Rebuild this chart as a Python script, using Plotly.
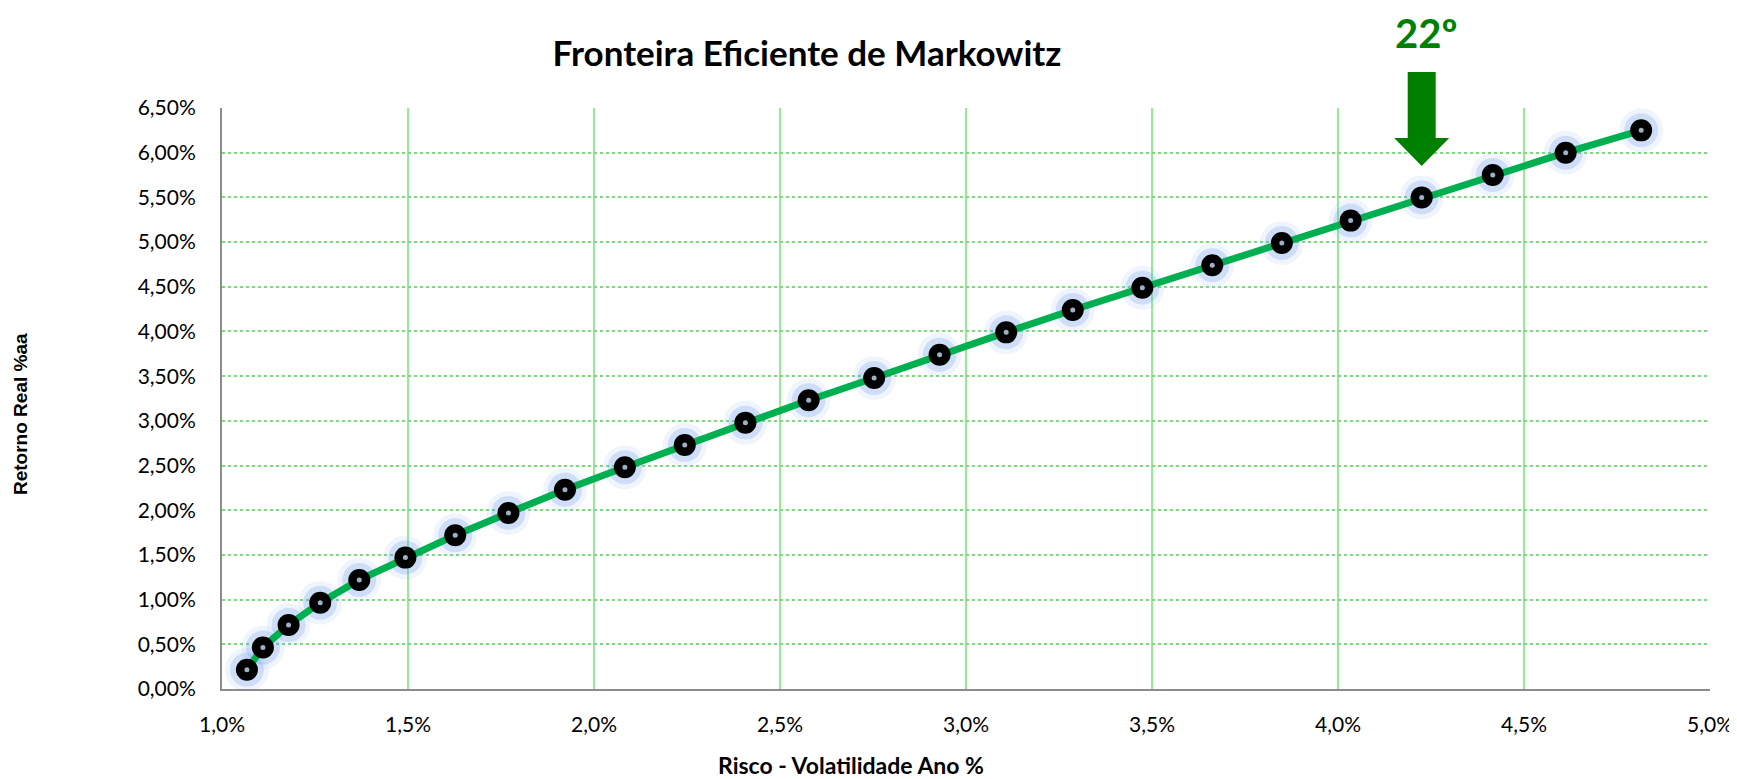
import plotly.graph_objects as go

# Risk (annual volatility, %) and real return (% a.a.) of the efficient frontier points
risco_pct = [1.067, 1.110, 1.179, 1.264, 1.369, 1.493, 1.627, 1.770, 1.922, 2.083,
             2.244, 2.407, 2.577, 2.753, 2.929, 3.108, 3.287, 3.474, 3.662, 3.849,
             4.034, 4.225, 4.416, 4.612, 4.815]
retorno_pct = [0.216, 0.465, 0.716, 0.965, 1.22, 1.47, 1.72, 1.97, 2.23, 2.48,
               2.73, 2.98, 3.23, 3.48, 3.74, 3.99, 4.24, 4.49, 4.74, 4.99,
               5.24, 5.50, 5.75, 6.00, 6.25]
highlight_index = 21          # the 22nd portfolio
highlight_label = "22º"
x_title = "Risco - Volatilidade Ano %"
y_title = "Retorno Real %aa"
chart_title = "Fronteira Eficiente de Markowitz"

x_range = [0.01, 0.05]
y_range = [0.0, 0.065]

x = [v / 100 for v in risco_pct]
y = [v / 100 for v in retorno_pct]

# page body has an 8px margin, so the figure is sized to fill the window exactly
W, H = 1729, 771
ML, MR, MT, MB = 214, 27, 100, 90
plot_w, plot_h = W - ML - MR, H - MT - MB

fig = go.Figure()

# soft glow around markers
fig.add_trace(go.Scatter(x=x, y=y, mode="markers", hoverinfo="skip", showlegend=False,
                         marker=dict(size=44, color="rgba(130,170,240,0.12)", line=dict(width=0))))
fig.add_trace(go.Scatter(x=x, y=y, mode="markers", hoverinfo="skip", showlegend=False,
                         marker=dict(size=34, color="rgba(100,150,235,0.24)", line=dict(width=0))))
# frontier line
fig.add_trace(go.Scatter(x=x, y=y, mode="lines", showlegend=False,
                         line=dict(color="#00B050", width=7)))
# black markers
fig.add_trace(go.Scatter(x=x, y=y, mode="markers", showlegend=False,
                         marker=dict(size=22, color="#000000", line=dict(width=0))))
# small centre dot
fig.add_trace(go.Scatter(x=x, y=y, mode="markers", hoverinfo="skip", showlegend=False,
                         marker=dict(size=5, color="#9fb0c4", line=dict(width=0))))

# arrow pointing at the highlighted portfolio (paper coordinates derived from data)
px = (x[highlight_index] - x_range[0]) / (x_range[1] - x_range[0])
shaft = 14 / plot_w
head = 27.5 / plot_w
y_top = 1 + 36 / plot_h
y_head = 1 - 30 / plot_h
y_tip = 1 - 58 / plot_h
path = (f"M {px-shaft},{y_top} L {px+shaft},{y_top} L {px+shaft},{y_head} "
        f"L {px+head},{y_head} L {px},{y_tip} L {px-head},{y_head} "
        f"L {px-shaft},{y_head} Z")
fig.add_shape(type="path", path=path, xref="paper", yref="paper",
              fillcolor="#008000", line=dict(width=0), layer="above")
fig.add_annotation(text=highlight_label, xref="paper", yref="paper", x=px + 4 / plot_w,
                   y=1 + 75 / plot_h, xanchor="center", yanchor="middle", showarrow=False,
                   height=48,
                   font=dict(family="Lato", size=40, color="#008000", weight="bold"))

# axis titles (placed as in the reference, not centred on the plot area)
fig.add_annotation(text=f"<b>{x_title}</b>", xref="paper", yref="paper",
                   x=(843 - ML) / plot_w, y=-(757 - (H - MB)) / plot_h,
                   xanchor="center", yanchor="middle", showarrow=False,
                   font=dict(family="Lato", size=23, color="#000000"))
fig.add_annotation(text=f"<b>{y_title}</b>", xref="paper", yref="paper",
                   x=(12 - ML) / plot_w, y=((H - MB) - 406) / plot_h, textangle=-90,
                   xanchor="center", yanchor="middle", showarrow=False,
                   font=dict(family="Liberation Sans", size=19, color="#000000"))

fig.update_layout(
    width=W, height=H,
    margin=dict(l=ML, r=MR, t=MT, b=MB, autoexpand=False),
    paper_bgcolor="white", plot_bgcolor="white",
    separators=",.",
    title=dict(text=f"<b>{chart_title}</b>", x=799 / W, xanchor="center",
               y=1 - 46 / H, yanchor="middle", yref="container",
               font=dict(family="Lato", size=35, color="#000000")),
    font=dict(family="Lato", size=21, color="#000000"),
    xaxis=dict(range=x_range, dtick=0.005, tick0=0.01, tickformat=".1%",
               showgrid=True, gridcolor="#90EE90", gridwidth=1.5,
               showline=True, linecolor="#8c8c8c", linewidth=2,
               zeroline=False, ticks="", ticklabelstandoff=16, automargin=False),
    yaxis=dict(range=y_range, dtick=0.005, tickformat=".2%",
               showgrid=True, gridcolor="#7ED87E", gridwidth=2, griddash="dot",
               showline=True, linecolor="#8c8c8c", linewidth=2,
               zeroline=False, ticks="", ticklabelstandoff=20, automargin=False),
)

fig.write_html("out.html")
